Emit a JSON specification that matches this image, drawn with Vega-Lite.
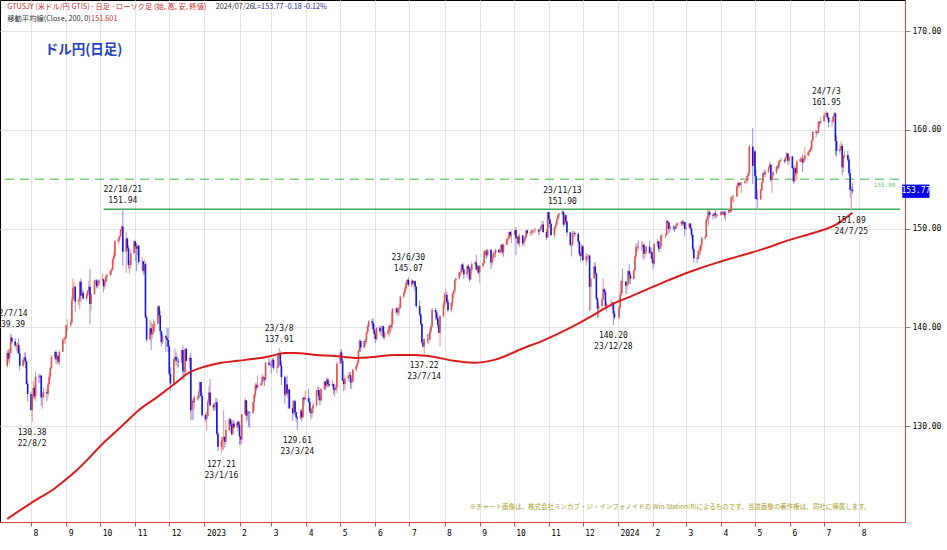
{
"$schema":"https://vega.github.io/schema/vega-lite/v6.json",
"width":905,"height":522,
"autosize":{"type":"none"},
"padding":{"left":0,"top":0,"right":42,"bottom":28},
"background":"white",
"view":{"stroke":"#000","strokeWidth":1},
"datasets":{
"ohlc":[
{"d":"2022-07-11","o":136.1,"h":137.7,"l":135.9,"c":137.4},{"d":"2022-07-12","o":137.4,"h":137.75,"l":136.55,"c":136.85},{"d":"2022-07-13","o":136.85,"h":137.85,"l":136.3,"c":137.4},{"d":"2022-07-14","o":137.4,"h":139.39,"l":137.35,"c":138.95},{"d":"2022-07-15","o":138.95,"h":139.2,"l":138.3,"c":138.55},
{"d":"2022-07-18","o":138.55,"h":138.9,"l":137.95,"c":138.15},{"d":"2022-07-19","o":138.15,"h":138.4,"l":137.6,"c":138.2},{"d":"2022-07-20","o":138.2,"h":138.45,"l":137.4,"c":138.2},{"d":"2022-07-21","o":138.2,"h":138.9,"l":137.3,"c":137.35},{"d":"2022-07-22","o":137.35,"h":137.9,"l":135.6,"c":136.1},
{"d":"2022-07-25","o":136.1,"h":136.85,"l":135.95,"c":136.7},{"d":"2022-07-26","o":136.7,"h":137.45,"l":136.3,"c":136.95},{"d":"2022-07-27","o":136.95,"h":137.45,"l":135.9,"c":136.55},{"d":"2022-07-28","o":136.55,"h":136.6,"l":134.2,"c":134.25},{"d":"2022-07-29","o":134.25,"h":134.6,"l":132.5,"c":133.25},
{"d":"2022-08-01","o":133.25,"h":133.5,"l":131.6,"c":131.6},{"d":"2022-08-02","o":131.6,"h":133.2,"l":130.38,"c":133.15},{"d":"2022-08-03","o":133.15,"h":134.55,"l":132.75,"c":133.85},{"d":"2022-08-04","o":133.85,"h":134.1,"l":132.75,"c":133.0},{"d":"2022-08-05","o":133.0,"h":135.5,"l":132.55,"c":135.0},
{"d":"2022-08-08","o":135.0,"h":135.3,"l":134.35,"c":134.95},{"d":"2022-08-09","o":134.95,"h":135.2,"l":134.35,"c":135.1},{"d":"2022-08-10","o":135.1,"h":135.2,"l":132.05,"c":132.9},{"d":"2022-08-11","o":132.9,"h":133.4,"l":131.75,"c":132.95},{"d":"2022-08-12","o":132.95,"h":133.9,"l":132.75,"c":133.45},
{"d":"2022-08-15","o":133.45,"h":133.75,"l":132.55,"c":133.3},{"d":"2022-08-16","o":133.3,"h":134.4,"l":132.9,"c":134.2},{"d":"2022-08-17","o":134.2,"h":135.4,"l":134.05,"c":135.0},{"d":"2022-08-18","o":135.0,"h":136.0,"l":134.7,"c":135.9},{"d":"2022-08-19","o":135.9,"h":137.15,"l":135.75,"c":137.0},
{"d":"2022-08-22","o":137.0,"h":137.6,"l":136.75,"c":137.5},{"d":"2022-08-23","o":137.5,"h":137.7,"l":136.3,"c":136.75},{"d":"2022-08-24","o":136.75,"h":137.2,"l":136.25,"c":137.1},{"d":"2022-08-25","o":137.1,"h":137.25,"l":136.3,"c":136.5},{"d":"2022-08-26","o":136.5,"h":137.7,"l":136.2,"c":137.5},
{"d":"2022-08-29","o":137.5,"h":138.9,"l":137.5,"c":138.75},{"d":"2022-08-30","o":138.75,"h":139.05,"l":138.3,"c":138.75},{"d":"2022-08-31","o":138.75,"h":139.1,"l":138.3,"c":138.95},{"d":"2022-09-01","o":138.95,"h":140.25,"l":138.95,"c":140.2},{"d":"2022-09-02","o":140.2,"h":140.8,"l":139.6,"c":140.2},
{"d":"2022-09-05","o":140.2,"h":140.8,"l":140.0,"c":140.5},{"d":"2022-09-06","o":140.5,"h":143.1,"l":140.35,"c":142.75},{"d":"2022-09-07","o":142.75,"h":144.99,"l":142.65,"c":144.0},{"d":"2022-09-08","o":144.0,"h":144.55,"l":143.0,"c":144.1},{"d":"2022-09-09","o":144.1,"h":144.15,"l":141.5,"c":142.6},
{"d":"2022-09-12","o":142.6,"h":143.0,"l":142.2,"c":142.8},{"d":"2022-09-13","o":142.8,"h":144.7,"l":141.8,"c":144.6},{"d":"2022-09-14","o":144.6,"h":144.95,"l":142.55,"c":143.2},{"d":"2022-09-15","o":143.2,"h":143.85,"l":143.1,"c":143.5},{"d":"2022-09-16","o":143.5,"h":143.7,"l":142.8,"c":142.9},
{"d":"2022-09-19","o":142.9,"h":143.5,"l":142.65,"c":143.2},{"d":"2022-09-20","o":143.2,"h":143.75,"l":143.05,"c":143.7},{"d":"2022-09-21","o":143.7,"h":144.7,"l":143.45,"c":144.1},{"d":"2022-09-22","o":144.1,"h":145.9,"l":140.35,"c":142.35},{"d":"2022-09-23","o":142.35,"h":143.5,"l":141.7,"c":143.35},
{"d":"2022-09-26","o":143.35,"h":144.8,"l":143.3,"c":144.7},{"d":"2022-09-27","o":144.7,"h":144.85,"l":144.3,"c":144.75},{"d":"2022-09-28","o":144.75,"h":144.9,"l":143.95,"c":144.15},{"d":"2022-09-29","o":144.15,"h":144.6,"l":143.9,"c":144.45},{"d":"2022-09-30","o":144.45,"h":144.9,"l":144.3,"c":144.75},
{"d":"2022-10-03","o":144.75,"h":145.4,"l":144.65,"c":144.85},{"d":"2022-10-04","o":144.85,"h":144.95,"l":143.55,"c":144.15},{"d":"2022-10-05","o":144.15,"h":144.7,"l":143.85,"c":144.6},{"d":"2022-10-06","o":144.6,"h":145.3,"l":144.45,"c":145.1},{"d":"2022-10-07","o":145.1,"h":145.45,"l":144.65,"c":145.3},
{"d":"2022-10-10","o":145.3,"h":145.8,"l":145.2,"c":145.7},{"d":"2022-10-11","o":145.7,"h":145.95,"l":145.35,"c":145.85},{"d":"2022-10-12","o":145.85,"h":146.95,"l":145.7,"c":146.9},{"d":"2022-10-13","o":146.9,"h":147.65,"l":146.35,"c":147.2},{"d":"2022-10-14","o":147.2,"h":148.85,"l":147.0,"c":148.7},
{"d":"2022-10-17","o":148.7,"h":149.1,"l":148.4,"c":148.9},{"d":"2022-10-18","o":148.9,"h":149.3,"l":148.65,"c":149.2},{"d":"2022-10-19","o":149.2,"h":149.95,"l":149.1,"c":149.9},{"d":"2022-10-20","o":149.9,"h":150.3,"l":149.7,"c":150.2},{"d":"2022-10-21","o":150.2,"h":151.94,"l":146.2,"c":147.65},
{"d":"2022-10-24","o":147.65,"h":149.7,"l":145.5,"c":149.0},{"d":"2022-10-25","o":149.0,"h":149.05,"l":147.75,"c":148.0},{"d":"2022-10-26","o":148.0,"h":148.3,"l":145.95,"c":146.3},{"d":"2022-10-27","o":146.3,"h":146.8,"l":145.4,"c":146.3},{"d":"2022-10-28","o":146.3,"h":147.9,"l":145.9,"c":147.5},
{"d":"2022-10-31","o":147.5,"h":148.8,"l":147.5,"c":148.7},{"d":"2022-11-01","o":148.7,"h":148.8,"l":146.7,"c":148.2},{"d":"2022-11-02","o":148.2,"h":148.55,"l":145.7,"c":147.95},{"d":"2022-11-03","o":147.95,"h":148.4,"l":147.3,"c":148.25},{"d":"2022-11-04","o":148.25,"h":148.35,"l":146.35,"c":146.6},
{"d":"2022-11-07","o":146.6,"h":147.15,"l":145.9,"c":146.65},{"d":"2022-11-08","o":146.65,"h":146.7,"l":145.3,"c":145.7},{"d":"2022-11-09","o":145.7,"h":146.85,"l":145.3,"c":146.4},{"d":"2022-11-10","o":146.4,"h":146.6,"l":140.9,"c":141.0},{"d":"2022-11-11","o":141.0,"h":141.2,"l":138.5,"c":138.75},
{"d":"2022-11-14","o":138.75,"h":140.75,"l":138.7,"c":139.9},{"d":"2022-11-15","o":139.9,"h":140.5,"l":137.7,"c":139.3},{"d":"2022-11-16","o":139.3,"h":140.35,"l":138.85,"c":139.5},{"d":"2022-11-17","o":139.5,"h":140.8,"l":139.3,"c":140.2},{"d":"2022-11-18","o":140.2,"h":140.65,"l":139.6,"c":140.35},
{"d":"2022-11-21","o":140.35,"h":142.25,"l":140.25,"c":142.1},{"d":"2022-11-22","o":142.1,"h":142.25,"l":140.95,"c":141.2},{"d":"2022-11-23","o":141.2,"h":141.7,"l":139.25,"c":139.6},{"d":"2022-11-24","o":139.6,"h":139.65,"l":138.05,"c":138.5},{"d":"2022-11-25","o":138.5,"h":139.35,"l":138.3,"c":139.1},
{"d":"2022-11-28","o":139.1,"h":139.2,"l":137.5,"c":138.9},{"d":"2022-11-29","o":138.9,"h":139.9,"l":138.0,"c":138.7},{"d":"2022-11-30","o":138.7,"h":139.9,"l":137.5,"c":138.05},{"d":"2022-12-01","o":138.05,"h":138.15,"l":135.1,"c":135.3},{"d":"2022-12-02","o":135.3,"h":135.95,"l":133.6,"c":134.3},
{"d":"2022-12-05","o":134.3,"h":136.9,"l":134.1,"c":136.75},{"d":"2022-12-06","o":136.75,"h":137.85,"l":136.5,"c":137.0},{"d":"2022-12-07","o":137.0,"h":137.45,"l":136.1,"c":136.6},{"d":"2022-12-08","o":136.6,"h":137.15,"l":135.9,"c":136.6},{"d":"2022-12-09","o":136.6,"h":136.9,"l":135.9,"c":136.5},
{"d":"2022-12-12","o":136.5,"h":137.75,"l":136.3,"c":137.7},{"d":"2022-12-13","o":137.7,"h":138.15,"l":134.7,"c":135.6},{"d":"2022-12-14","o":135.6,"h":135.95,"l":134.65,"c":135.5},{"d":"2022-12-15","o":135.5,"h":137.9,"l":135.05,"c":137.8},{"d":"2022-12-16","o":137.8,"h":137.95,"l":136.6,"c":136.6},
{"d":"2022-12-19","o":136.6,"h":137.05,"l":135.8,"c":136.9},{"d":"2022-12-20","o":136.9,"h":137.45,"l":130.6,"c":131.6},{"d":"2022-12-21","o":131.6,"h":132.8,"l":130.6,"c":132.5},{"d":"2022-12-22","o":132.5,"h":132.7,"l":130.6,"c":132.4},{"d":"2022-12-23","o":132.4,"h":133.1,"l":131.7,"c":132.9},
{"d":"2022-12-26","o":132.9,"h":133.0,"l":132.6,"c":132.85},{"d":"2022-12-27","o":132.85,"h":133.6,"l":132.6,"c":133.5},{"d":"2022-12-28","o":133.5,"h":134.5,"l":133.4,"c":134.45},{"d":"2022-12-29","o":134.45,"h":134.45,"l":132.9,"c":133.05},{"d":"2022-12-30","o":133.05,"h":133.3,"l":130.95,"c":131.1},
{"d":"2023-01-02","o":131.1,"h":131.3,"l":130.45,"c":130.7},{"d":"2023-01-03","o":130.7,"h":131.45,"l":129.5,"c":131.0},{"d":"2023-01-04","o":131.0,"h":132.7,"l":130.9,"c":132.45},{"d":"2023-01-05","o":132.45,"h":134.05,"l":132.4,"c":133.4},{"d":"2023-01-06","o":133.4,"h":134.75,"l":131.95,"c":132.1},
{"d":"2023-01-09","o":132.1,"h":132.3,"l":131.55,"c":131.9},{"d":"2023-01-10","o":131.9,"h":132.3,"l":131.6,"c":132.2},{"d":"2023-01-11","o":132.2,"h":132.85,"l":131.55,"c":132.4},{"d":"2023-01-12","o":132.4,"h":132.85,"l":129.05,"c":129.2},{"d":"2023-01-13","o":129.2,"h":129.4,"l":127.45,"c":127.9},
{"d":"2023-01-16","o":127.9,"h":128.9,"l":127.21,"c":128.5},{"d":"2023-01-17","o":128.5,"h":128.9,"l":127.6,"c":128.6},{"d":"2023-01-18","o":128.6,"h":131.55,"l":127.55,"c":128.9},{"d":"2023-01-19","o":128.9,"h":128.95,"l":127.8,"c":128.4},{"d":"2023-01-20","o":128.4,"h":130.6,"l":128.1,"c":129.6},
{"d":"2023-01-23","o":129.6,"h":130.85,"l":129.45,"c":130.7},{"d":"2023-01-24","o":130.7,"h":130.75,"l":130.0,"c":130.15},{"d":"2023-01-25","o":130.15,"h":130.5,"l":129.05,"c":129.2},{"d":"2023-01-26","o":129.2,"h":130.6,"l":129.05,"c":130.25},{"d":"2023-01-27","o":130.25,"h":130.6,"l":129.7,"c":129.85},
{"d":"2023-01-30","o":129.85,"h":130.5,"l":129.5,"c":130.4},{"d":"2023-01-31","o":130.4,"h":130.6,"l":129.8,"c":130.1},{"d":"2023-02-01","o":130.1,"h":130.45,"l":128.1,"c":128.95},{"d":"2023-02-02","o":128.95,"h":129.0,"l":128.1,"c":128.65},{"d":"2023-02-03","o":128.65,"h":131.2,"l":128.2,"c":131.2},
{"d":"2023-02-06","o":131.2,"h":132.9,"l":131.15,"c":132.6},{"d":"2023-02-07","o":132.6,"h":132.6,"l":130.45,"c":131.05},{"d":"2023-02-08","o":131.05,"h":131.6,"l":130.65,"c":131.45},{"d":"2023-02-09","o":131.45,"h":131.5,"l":129.95,"c":131.4},{"d":"2023-02-10","o":131.4,"h":131.45,"l":129.8,"c":131.35},
{"d":"2023-02-13","o":131.35,"h":132.55,"l":131.2,"c":132.4},{"d":"2023-02-14","o":132.4,"h":133.3,"l":131.55,"c":133.15},{"d":"2023-02-15","o":133.15,"h":134.35,"l":132.85,"c":134.1},{"d":"2023-02-16","o":134.1,"h":134.3,"l":133.6,"c":133.9},{"d":"2023-02-17","o":133.9,"h":135.1,"l":133.85,"c":134.15},
{"d":"2023-02-20","o":134.15,"h":134.4,"l":134.0,"c":134.3},{"d":"2023-02-21","o":134.3,"h":135.25,"l":134.05,"c":134.95},{"d":"2023-02-22","o":134.95,"h":135.1,"l":134.5,"c":134.9},{"d":"2023-02-23","o":134.9,"h":134.95,"l":134.05,"c":134.7},{"d":"2023-02-24","o":134.7,"h":136.5,"l":134.55,"c":136.4},
{"d":"2023-02-27","o":136.4,"h":136.9,"l":136.05,"c":136.2},{"d":"2023-02-28","o":136.2,"h":136.6,"l":135.95,"c":136.2},{"d":"2023-03-01","o":136.2,"h":136.6,"l":135.3,"c":136.15},{"d":"2023-03-02","o":136.15,"h":136.9,"l":135.9,"c":136.7},{"d":"2023-03-03","o":136.7,"h":136.85,"l":135.7,"c":135.9},
{"d":"2023-03-06","o":135.9,"h":136.15,"l":135.35,"c":135.9},{"d":"2023-03-07","o":135.9,"h":137.4,"l":135.8,"c":137.15},{"d":"2023-03-08","o":137.15,"h":137.91,"l":136.8,"c":137.3},{"d":"2023-03-09","o":137.3,"h":137.6,"l":136.05,"c":136.1},{"d":"2023-03-10","o":136.1,"h":136.6,"l":134.15,"c":134.95},
{"d":"2023-03-13","o":134.95,"h":135.1,"l":132.2,"c":133.2},{"d":"2023-03-14","o":133.2,"h":134.95,"l":133.05,"c":134.2},{"d":"2023-03-15","o":134.2,"h":135.1,"l":132.9,"c":133.3},{"d":"2023-03-16","o":133.3,"h":133.7,"l":131.7,"c":133.7},{"d":"2023-03-17","o":133.7,"h":133.8,"l":131.75,"c":131.8},
{"d":"2023-03-20","o":131.8,"h":132.6,"l":130.55,"c":131.3},{"d":"2023-03-21","o":131.3,"h":132.65,"l":131.1,"c":132.5},{"d":"2023-03-22","o":132.5,"h":132.65,"l":131.1,"c":131.4},{"d":"2023-03-23","o":131.4,"h":131.45,"l":130.4,"c":130.85},{"d":"2023-03-24","o":130.85,"h":131.0,"l":129.61,"c":130.75},
{"d":"2023-03-27","o":130.75,"h":131.7,"l":130.7,"c":131.55},{"d":"2023-03-28","o":131.55,"h":131.75,"l":130.5,"c":130.9},{"d":"2023-03-29","o":130.9,"h":132.9,"l":130.8,"c":132.85},{"d":"2023-03-30","o":132.85,"h":133.0,"l":132.1,"c":132.7},{"d":"2023-03-31","o":132.7,"h":133.6,"l":132.6,"c":132.85},
{"d":"2023-04-03","o":132.85,"h":133.75,"l":132.35,"c":132.45},{"d":"2023-04-04","o":132.45,"h":132.8,"l":131.3,"c":131.5},{"d":"2023-04-05","o":131.5,"h":131.8,"l":130.65,"c":131.3},{"d":"2023-04-06","o":131.3,"h":131.95,"l":130.85,"c":131.75},{"d":"2023-04-07","o":131.75,"h":132.4,"l":131.3,"c":132.1},
{"d":"2023-04-10","o":132.1,"h":133.65,"l":131.95,"c":133.6},{"d":"2023-04-11","o":133.6,"h":133.95,"l":133.2,"c":133.65},{"d":"2023-04-12","o":133.65,"h":134.0,"l":132.55,"c":133.0},{"d":"2023-04-13","o":133.0,"h":133.4,"l":132.1,"c":132.6},{"d":"2023-04-14","o":132.6,"h":133.85,"l":132.4,"c":133.75},
{"d":"2023-04-17","o":133.75,"h":134.55,"l":133.6,"c":134.5},{"d":"2023-04-18","o":134.5,"h":134.55,"l":133.65,"c":134.1},{"d":"2023-04-19","o":134.1,"h":134.95,"l":133.9,"c":134.7},{"d":"2023-04-20","o":134.7,"h":134.9,"l":133.9,"c":134.25},{"d":"2023-04-21","o":134.25,"h":134.6,"l":133.95,"c":134.1},
{"d":"2023-04-24","o":134.1,"h":134.65,"l":134.0,"c":134.25},{"d":"2023-04-25","o":134.25,"h":134.3,"l":133.25,"c":133.7},{"d":"2023-04-26","o":133.7,"h":133.85,"l":133.0,"c":133.65},{"d":"2023-04-27","o":133.65,"h":134.2,"l":133.5,"c":133.95},{"d":"2023-04-28","o":133.95,"h":136.55,"l":133.35,"c":136.3},
{"d":"2023-05-01","o":136.3,"h":137.75,"l":136.3,"c":137.45},{"d":"2023-05-02","o":137.45,"h":137.75,"l":136.3,"c":136.6},{"d":"2023-05-03","o":136.6,"h":136.85,"l":134.55,"c":134.6},{"d":"2023-05-04","o":134.6,"h":134.8,"l":133.5,"c":134.25},{"d":"2023-05-05","o":134.25,"h":135.15,"l":133.65,"c":134.8},
{"d":"2023-05-08","o":134.8,"h":135.35,"l":134.5,"c":135.1},{"d":"2023-05-09","o":135.1,"h":135.5,"l":134.9,"c":135.15},{"d":"2023-05-10","o":135.15,"h":135.45,"l":133.8,"c":134.4},{"d":"2023-05-11","o":134.4,"h":134.85,"l":133.75,"c":134.5},{"d":"2023-05-12","o":134.5,"h":135.8,"l":134.4,"c":135.7},
{"d":"2023-05-15","o":135.7,"h":136.2,"l":135.5,"c":136.1},{"d":"2023-05-16","o":136.1,"h":136.7,"l":135.95,"c":136.4},{"d":"2023-05-17","o":136.4,"h":137.7,"l":136.3,"c":137.6},{"d":"2023-05-18","o":137.6,"h":138.75,"l":137.5,"c":138.6},{"d":"2023-05-19","o":138.6,"h":138.75,"l":137.5,"c":137.95},
{"d":"2023-05-22","o":137.95,"h":138.65,"l":137.85,"c":138.6},{"d":"2023-05-23","o":138.6,"h":138.9,"l":138.05,"c":138.55},{"d":"2023-05-24","o":138.55,"h":139.55,"l":138.3,"c":139.45},{"d":"2023-05-25","o":139.45,"h":140.25,"l":139.3,"c":140.05},{"d":"2023-05-26","o":140.05,"h":140.75,"l":139.6,"c":140.6},
{"d":"2023-05-29","o":140.6,"h":140.9,"l":140.2,"c":140.45},{"d":"2023-05-30","o":140.45,"h":140.9,"l":139.55,"c":139.8},{"d":"2023-05-31","o":139.8,"h":140.3,"l":138.85,"c":139.3},{"d":"2023-06-01","o":139.3,"h":139.55,"l":138.4,"c":138.8},{"d":"2023-06-02","o":138.8,"h":140.0,"l":138.65,"c":139.95},
{"d":"2023-06-05","o":139.95,"h":140.2,"l":139.35,"c":139.6},{"d":"2023-06-06","o":139.6,"h":139.8,"l":139.1,"c":139.6},{"d":"2023-06-07","o":139.6,"h":140.2,"l":139.1,"c":140.1},{"d":"2023-06-08","o":140.1,"h":140.15,"l":138.8,"c":139.0},{"d":"2023-06-09","o":139.0,"h":139.55,"l":138.75,"c":139.4},
{"d":"2023-06-12","o":139.4,"h":139.8,"l":139.2,"c":139.6},{"d":"2023-06-13","o":139.6,"h":140.3,"l":139.05,"c":140.1},{"d":"2023-06-14","o":140.1,"h":140.2,"l":139.3,"c":140.0},{"d":"2023-06-15","o":140.0,"h":141.5,"l":139.65,"c":140.3},{"d":"2023-06-16","o":140.3,"h":141.95,"l":139.85,"c":141.85},
{"d":"2023-06-19","o":141.85,"h":142.0,"l":141.4,"c":141.9},{"d":"2023-06-20","o":141.9,"h":142.0,"l":141.2,"c":141.5},{"d":"2023-06-21","o":141.5,"h":142.0,"l":141.1,"c":141.85},{"d":"2023-06-22","o":141.85,"h":142.35,"l":141.3,"c":141.95},{"d":"2023-06-23","o":141.95,"h":143.2,"l":141.9,"c":143.1},
{"d":"2023-06-26","o":143.1,"h":143.65,"l":142.95,"c":143.5},{"d":"2023-06-27","o":143.5,"h":144.1,"l":143.35,"c":143.9},{"d":"2023-06-28","o":143.9,"h":144.6,"l":143.8,"c":144.5},{"d":"2023-06-29","o":144.5,"h":144.85,"l":144.3,"c":144.8},{"d":"2023-06-30","o":144.8,"h":145.07,"l":144.1,"c":144.3},
{"d":"2023-07-03","o":144.3,"h":144.9,"l":144.05,"c":144.7},{"d":"2023-07-04","o":144.7,"h":144.75,"l":144.3,"c":144.45},{"d":"2023-07-05","o":144.45,"h":144.7,"l":143.8,"c":144.65},{"d":"2023-07-06","o":144.65,"h":144.75,"l":143.55,"c":144.1},{"d":"2023-07-07","o":144.1,"h":144.15,"l":141.95,"c":142.15},
{"d":"2023-07-10","o":142.15,"h":142.7,"l":141.1,"c":141.3},{"d":"2023-07-11","o":141.3,"h":141.4,"l":140.15,"c":140.35},{"d":"2023-07-12","o":140.35,"h":140.4,"l":138.35,"c":138.45},{"d":"2023-07-13","o":138.45,"h":138.8,"l":137.95,"c":138.05},{"d":"2023-07-14","o":138.05,"h":138.9,"l":137.22,"c":138.8},
{"d":"2023-07-17","o":138.8,"h":139.3,"l":138.4,"c":138.75},{"d":"2023-07-18","o":138.75,"h":139.3,"l":138.3,"c":138.8},{"d":"2023-07-19","o":138.8,"h":139.95,"l":138.55,"c":139.6},{"d":"2023-07-20","o":139.6,"h":140.25,"l":139.35,"c":140.1},{"d":"2023-07-21","o":140.1,"h":141.95,"l":139.95,"c":141.75},
{"d":"2023-07-24","o":141.75,"h":141.95,"l":140.75,"c":141.5},{"d":"2023-07-25","o":141.5,"h":141.7,"l":140.7,"c":140.95},{"d":"2023-07-26","o":140.95,"h":141.2,"l":139.95,"c":140.25},{"d":"2023-07-27","o":140.25,"h":140.75,"l":139.4,"c":139.45},{"d":"2023-07-28","o":139.45,"h":141.2,"l":138.05,"c":141.15},
{"d":"2023-07-31","o":141.15,"h":142.65,"l":140.95,"c":142.3},{"d":"2023-08-01","o":142.3,"h":143.5,"l":141.95,"c":143.3},{"d":"2023-08-02","o":143.3,"h":143.9,"l":142.9,"c":143.3},{"d":"2023-08-03","o":143.3,"h":143.6,"l":142.3,"c":142.55},{"d":"2023-08-04","o":142.55,"h":142.9,"l":141.55,"c":141.75},
{"d":"2023-08-07","o":141.75,"h":142.55,"l":141.5,"c":142.45},{"d":"2023-08-08","o":142.45,"h":143.5,"l":142.1,"c":143.4},{"d":"2023-08-09","o":143.4,"h":143.8,"l":143.0,"c":143.7},{"d":"2023-08-10","o":143.7,"h":144.85,"l":143.35,"c":144.75},{"d":"2023-08-11","o":144.75,"h":145.05,"l":144.5,"c":144.95},
{"d":"2023-08-14","o":144.95,"h":145.6,"l":144.8,"c":145.55},{"d":"2023-08-15","o":145.55,"h":145.85,"l":145.2,"c":145.6},{"d":"2023-08-16","o":145.6,"h":146.4,"l":145.4,"c":146.35},{"d":"2023-08-17","o":146.35,"h":146.55,"l":145.65,"c":145.85},{"d":"2023-08-18","o":145.85,"h":146.0,"l":144.9,"c":145.35},
{"d":"2023-08-21","o":145.35,"h":146.3,"l":145.05,"c":146.2},{"d":"2023-08-22","o":146.2,"h":146.4,"l":145.6,"c":145.9},{"d":"2023-08-23","o":145.9,"h":146.1,"l":144.55,"c":144.85},{"d":"2023-08-24","o":144.85,"h":146.15,"l":144.75,"c":145.8},{"d":"2023-08-25","o":145.8,"h":146.65,"l":145.4,"c":146.4},
{"d":"2023-08-28","o":146.4,"h":146.75,"l":146.3,"c":146.55},{"d":"2023-08-29","o":146.55,"h":147.35,"l":145.75,"c":145.85},{"d":"2023-08-30","o":145.85,"h":146.3,"l":145.5,"c":146.15},{"d":"2023-08-31","o":146.15,"h":146.25,"l":145.35,"c":145.55},{"d":"2023-09-01","o":145.55,"h":146.3,"l":144.45,"c":146.2},
{"d":"2023-09-04","o":146.2,"h":146.55,"l":146.05,"c":146.5},{"d":"2023-09-05","o":146.5,"h":147.8,"l":146.4,"c":147.7},{"d":"2023-09-06","o":147.7,"h":147.85,"l":147.15,"c":147.7},{"d":"2023-09-07","o":147.7,"h":147.9,"l":146.9,"c":147.3},{"d":"2023-09-08","o":147.3,"h":147.9,"l":147.15,"c":147.85},
{"d":"2023-09-11","o":147.85,"h":147.85,"l":145.9,"c":146.55},{"d":"2023-09-12","o":146.55,"h":147.2,"l":146.25,"c":147.1},{"d":"2023-09-13","o":147.1,"h":147.75,"l":146.75,"c":147.45},{"d":"2023-09-14","o":147.45,"h":147.6,"l":147.0,"c":147.45},{"d":"2023-09-15","o":147.45,"h":147.95,"l":147.1,"c":147.85},
{"d":"2023-09-18","o":147.85,"h":147.9,"l":147.5,"c":147.6},{"d":"2023-09-19","o":147.6,"h":148.0,"l":147.5,"c":147.85},{"d":"2023-09-20","o":147.85,"h":148.45,"l":147.45,"c":148.35},{"d":"2023-09-21","o":148.35,"h":148.5,"l":147.3,"c":147.6},{"d":"2023-09-22","o":147.6,"h":148.45,"l":147.1,"c":148.35},
{"d":"2023-09-25","o":148.35,"h":149.0,"l":148.3,"c":148.9},{"d":"2023-09-26","o":148.9,"h":149.2,"l":148.65,"c":149.05},{"d":"2023-09-27","o":149.05,"h":149.7,"l":148.9,"c":149.65},{"d":"2023-09-28","o":149.65,"h":149.7,"l":149.1,"c":149.3},{"d":"2023-09-29","o":149.3,"h":149.8,"l":148.5,"c":149.35},
{"d":"2023-10-02","o":149.35,"h":149.9,"l":149.3,"c":149.85},{"d":"2023-10-03","o":149.85,"h":150.16,"l":147.3,"c":149.0},{"d":"2023-10-04","o":149.0,"h":149.3,"l":148.5,"c":149.15},{"d":"2023-10-05","o":149.15,"h":149.25,"l":148.3,"c":148.5},{"d":"2023-10-06","o":148.5,"h":149.55,"l":148.1,"c":149.3},
{"d":"2023-10-09","o":149.3,"h":149.3,"l":148.2,"c":148.5},{"d":"2023-10-10","o":148.5,"h":148.85,"l":148.2,"c":148.75},{"d":"2023-10-11","o":148.75,"h":149.25,"l":148.7,"c":149.1},{"d":"2023-10-12","o":149.1,"h":149.85,"l":149.0,"c":149.8},{"d":"2023-10-13","o":149.8,"h":149.85,"l":149.35,"c":149.55},
{"d":"2023-10-16","o":149.55,"h":149.8,"l":149.3,"c":149.6},{"d":"2023-10-17","o":149.6,"h":149.85,"l":149.3,"c":149.8},{"d":"2023-10-18","o":149.8,"h":149.9,"l":149.4,"c":149.8},{"d":"2023-10-19","o":149.8,"h":150.0,"l":149.55,"c":149.85},{"d":"2023-10-20","o":149.85,"h":150.05,"l":149.6,"c":149.85},
{"d":"2023-10-23","o":149.85,"h":150.0,"l":149.3,"c":149.7},{"d":"2023-10-24","o":149.7,"h":150.0,"l":149.4,"c":149.9},{"d":"2023-10-25","o":149.9,"h":150.3,"l":149.75,"c":150.2},{"d":"2023-10-26","o":150.2,"h":150.75,"l":150.1,"c":150.4},{"d":"2023-10-27","o":150.4,"h":150.75,"l":149.55,"c":149.65},
{"d":"2023-10-30","o":149.65,"h":149.95,"l":148.8,"c":149.1},{"d":"2023-10-31","o":149.1,"h":151.7,"l":149.05,"c":151.65},{"d":"2023-11-01","o":151.65,"h":151.7,"l":150.1,"c":150.95},{"d":"2023-11-02","o":150.95,"h":151.0,"l":150.05,"c":150.45},{"d":"2023-11-03","o":150.45,"h":150.65,"l":149.2,"c":149.35},
{"d":"2023-11-06","o":149.35,"h":150.2,"l":149.05,"c":150.05},{"d":"2023-11-07","o":150.05,"h":150.6,"l":149.95,"c":150.4},{"d":"2023-11-08","o":150.4,"h":151.0,"l":150.3,"c":150.95},{"d":"2023-11-09","o":150.95,"h":151.45,"l":150.8,"c":151.35},{"d":"2023-11-10","o":151.35,"h":151.6,"l":151.05,"c":151.5},
{"d":"2023-11-13","o":151.5,"h":151.9,"l":151.35,"c":151.7},{"d":"2023-11-14","o":151.7,"h":151.75,"l":150.15,"c":150.4},{"d":"2023-11-15","o":150.4,"h":151.45,"l":150.35,"c":151.35},{"d":"2023-11-16","o":151.35,"h":151.4,"l":150.55,"c":150.7},{"d":"2023-11-17","o":150.7,"h":150.8,"l":149.2,"c":149.6},
{"d":"2023-11-20","o":149.6,"h":149.7,"l":148.15,"c":148.35},{"d":"2023-11-21","o":148.35,"h":148.5,"l":147.15,"c":148.4},{"d":"2023-11-22","o":148.4,"h":149.75,"l":148.2,"c":149.55},{"d":"2023-11-23","o":149.55,"h":149.75,"l":149.05,"c":149.55},{"d":"2023-11-24","o":149.55,"h":149.7,"l":149.2,"c":149.45},
{"d":"2023-11-27","o":149.45,"h":149.6,"l":148.4,"c":148.65},{"d":"2023-11-28","o":148.65,"h":148.75,"l":147.2,"c":147.45},{"d":"2023-11-29","o":147.45,"h":147.65,"l":146.65,"c":147.25},{"d":"2023-11-30","o":147.25,"h":148.45,"l":147.15,"c":148.2},{"d":"2023-12-01","o":148.2,"h":148.3,"l":146.65,"c":146.8},
{"d":"2023-12-04","o":146.8,"h":147.45,"l":146.25,"c":147.2},{"d":"2023-12-05","o":147.2,"h":147.45,"l":146.6,"c":147.2},{"d":"2023-12-06","o":147.2,"h":147.3,"l":146.9,"c":147.25},{"d":"2023-12-07","o":147.25,"h":147.35,"l":141.6,"c":144.1},{"d":"2023-12-08","o":144.1,"h":145.0,"l":141.75,"c":144.95},
{"d":"2023-12-11","o":144.95,"h":146.55,"l":144.9,"c":146.15},{"d":"2023-12-12","o":146.15,"h":146.6,"l":145.25,"c":145.45},{"d":"2023-12-13","o":145.45,"h":145.55,"l":142.75,"c":142.9},{"d":"2023-12-14","o":142.9,"h":143.0,"l":140.95,"c":141.9},{"d":"2023-12-15","o":141.9,"h":142.5,"l":141.0,"c":142.15},
{"d":"2023-12-18","o":142.15,"h":142.95,"l":141.95,"c":142.8},{"d":"2023-12-19","o":142.8,"h":144.95,"l":142.7,"c":143.85},{"d":"2023-12-20","o":143.85,"h":144.0,"l":143.25,"c":143.55},{"d":"2023-12-21","o":143.55,"h":143.75,"l":141.95,"c":142.15},{"d":"2023-12-22","o":142.15,"h":142.6,"l":141.55,"c":142.4},
{"d":"2023-12-26","o":142.4,"h":142.85,"l":142.15,"c":142.4},{"d":"2023-12-27","o":142.4,"h":142.55,"l":141.9,"c":142.5},{"d":"2023-12-28","o":142.5,"h":142.55,"l":140.2,"c":141.4},{"d":"2023-12-29","o":141.4,"h":141.65,"l":140.8,"c":141.0},
{"d":"2024-01-02","o":141.0,"h":142.2,"l":140.8,"c":142.0},{"d":"2024-01-03","o":142.0,"h":143.7,"l":141.8,"c":143.3},{"d":"2024-01-04","o":143.3,"h":144.85,"l":143.15,"c":144.65},{"d":"2024-01-05","o":144.65,"h":145.95,"l":143.45,"c":144.6},
{"d":"2024-01-08","o":144.6,"h":144.7,"l":143.4,"c":144.2},{"d":"2024-01-09","o":144.2,"h":144.55,"l":143.4,"c":144.4},{"d":"2024-01-10","o":144.4,"h":145.85,"l":144.25,"c":145.7},{"d":"2024-01-11","o":145.7,"h":146.4,"l":144.35,"c":145.3},{"d":"2024-01-12","o":145.3,"h":145.55,"l":144.35,"c":144.9},
{"d":"2024-01-15","o":144.9,"h":145.85,"l":144.85,"c":145.75},{"d":"2024-01-16","o":145.75,"h":147.3,"l":145.7,"c":147.2},{"d":"2024-01-17","o":147.2,"h":148.5,"l":147.0,"c":148.15},{"d":"2024-01-18","o":148.15,"h":148.5,"l":147.6,"c":148.15},{"d":"2024-01-19","o":148.15,"h":148.8,"l":147.85,"c":148.1},
{"d":"2024-01-22","o":148.1,"h":148.7,"l":147.75,"c":148.1},{"d":"2024-01-23","o":148.1,"h":148.7,"l":146.95,"c":148.35},{"d":"2024-01-24","o":148.35,"h":148.45,"l":146.85,"c":147.45},{"d":"2024-01-25","o":147.45,"h":147.85,"l":147.1,"c":147.65},{"d":"2024-01-26","o":147.65,"h":148.25,"l":147.45,"c":148.15},
{"d":"2024-01-29","o":148.15,"h":148.8,"l":147.5,"c":147.5},{"d":"2024-01-30","o":147.5,"h":147.8,"l":147.0,"c":147.6},{"d":"2024-01-31","o":147.6,"h":148.0,"l":146.5,"c":146.9},{"d":"2024-02-01","o":146.9,"h":147.2,"l":145.9,"c":146.45},{"d":"2024-02-02","o":146.45,"h":148.55,"l":146.2,"c":148.4},
{"d":"2024-02-05","o":148.4,"h":148.9,"l":148.1,"c":148.7},{"d":"2024-02-06","o":148.7,"h":148.75,"l":147.65,"c":147.95},{"d":"2024-02-07","o":147.95,"h":148.3,"l":147.6,"c":148.15},{"d":"2024-02-08","o":148.15,"h":149.35,"l":147.95,"c":149.3},{"d":"2024-02-09","o":149.3,"h":149.5,"l":149.0,"c":149.3},
{"d":"2024-02-12","o":149.3,"h":149.5,"l":149.0,"c":149.35},{"d":"2024-02-13","o":149.35,"h":150.9,"l":149.2,"c":150.75},{"d":"2024-02-14","o":150.75,"h":150.85,"l":150.05,"c":150.6},{"d":"2024-02-15","o":150.6,"h":150.65,"l":149.5,"c":149.95},{"d":"2024-02-16","o":149.95,"h":150.4,"l":149.65,"c":150.2},
{"d":"2024-02-19","o":150.2,"h":150.3,"l":149.8,"c":150.15},{"d":"2024-02-20","o":150.15,"h":150.2,"l":149.65,"c":150.0},{"d":"2024-02-21","o":150.0,"h":150.35,"l":149.85,"c":150.3},{"d":"2024-02-22","o":150.3,"h":150.6,"l":150.05,"c":150.5},{"d":"2024-02-23","o":150.5,"h":150.65,"l":150.25,"c":150.5},
{"d":"2024-02-26","o":150.5,"h":150.75,"l":150.25,"c":150.7},{"d":"2024-02-27","o":150.7,"h":150.85,"l":150.3,"c":150.5},{"d":"2024-02-28","o":150.5,"h":150.85,"l":150.2,"c":150.65},{"d":"2024-02-29","o":150.65,"h":150.7,"l":149.2,"c":149.95},{"d":"2024-03-01","o":149.95,"h":150.7,"l":149.75,"c":150.1},
{"d":"2024-03-04","o":150.1,"h":150.6,"l":150.1,"c":150.5},{"d":"2024-03-05","o":150.5,"h":150.55,"l":149.8,"c":150.0},{"d":"2024-03-06","o":150.0,"h":150.15,"l":149.1,"c":149.35},{"d":"2024-03-07","o":149.35,"h":149.45,"l":147.65,"c":147.9},{"d":"2024-03-08","o":147.9,"h":148.1,"l":146.55,"c":147.0},
{"d":"2024-03-11","o":147.0,"h":147.3,"l":146.48,"c":146.95},{"d":"2024-03-12","o":146.95,"h":147.9,"l":146.9,"c":147.7},{"d":"2024-03-13","o":147.7,"h":148.15,"l":147.3,"c":147.75},{"d":"2024-03-14","o":147.75,"h":148.35,"l":147.4,"c":148.35},{"d":"2024-03-15","o":148.35,"h":149.15,"l":147.95,"c":149.05},
{"d":"2024-03-18","o":149.05,"h":149.25,"l":148.8,"c":149.15},{"d":"2024-03-19","o":149.15,"h":150.95,"l":149.1,"c":150.85},{"d":"2024-03-20","o":150.85,"h":151.8,"l":150.7,"c":151.25},{"d":"2024-03-21","o":151.25,"h":151.85,"l":150.25,"c":151.65},{"d":"2024-03-22","o":151.65,"h":151.85,"l":151.1,"c":151.4},
{"d":"2024-03-25","o":151.4,"h":151.5,"l":150.9,"c":151.3},{"d":"2024-03-26","o":151.3,"h":151.6,"l":151.15,"c":151.55},{"d":"2024-03-27","o":151.55,"h":151.97,"l":151.0,"c":151.35},{"d":"2024-03-28","o":151.35,"h":151.5,"l":151.05,"c":151.35},{"d":"2024-03-29","o":151.35,"h":151.45,"l":151.2,"c":151.35},
{"d":"2024-04-01","o":151.35,"h":151.8,"l":151.3,"c":151.65},{"d":"2024-04-02","o":151.65,"h":151.8,"l":151.35,"c":151.55},{"d":"2024-04-03","o":151.55,"h":151.8,"l":151.4,"c":151.65},{"d":"2024-04-04","o":151.65,"h":151.75,"l":151.05,"c":151.35},{"d":"2024-04-05","o":151.35,"h":151.8,"l":150.8,"c":151.6},
{"d":"2024-04-08","o":151.6,"h":151.9,"l":151.5,"c":151.85},{"d":"2024-04-09","o":151.85,"h":151.95,"l":151.6,"c":151.75},{"d":"2024-04-10","o":151.75,"h":153.25,"l":151.6,"c":153.15},{"d":"2024-04-11","o":153.15,"h":153.3,"l":152.75,"c":153.25},{"d":"2024-04-12","o":153.25,"h":153.4,"l":152.6,"c":153.25},
{"d":"2024-04-15","o":153.25,"h":154.4,"l":153.2,"c":154.25},{"d":"2024-04-16","o":154.25,"h":154.75,"l":154.1,"c":154.6},{"d":"2024-04-17","o":154.6,"h":154.7,"l":154.1,"c":154.4},{"d":"2024-04-18","o":154.4,"h":154.7,"l":154.3,"c":154.6},{"d":"2024-04-19","o":154.6,"h":154.7,"l":153.6,"c":154.65},
{"d":"2024-04-22","o":154.65,"h":154.85,"l":154.55,"c":154.8},{"d":"2024-04-23","o":154.8,"h":154.9,"l":154.5,"c":154.8},{"d":"2024-04-24","o":154.8,"h":155.4,"l":154.6,"c":155.35},{"d":"2024-04-25","o":155.35,"h":155.75,"l":155.0,"c":155.6},{"d":"2024-04-26","o":155.6,"h":158.45,"l":155.35,"c":158.3},
{"d":"2024-04-29","o":158.3,"h":160.2,"l":154.5,"c":156.35},{"d":"2024-04-30","o":156.35,"h":157.9,"l":156.3,"c":157.8},{"d":"2024-05-01","o":157.8,"h":157.95,"l":153.0,"c":155.3},{"d":"2024-05-02","o":155.3,"h":155.95,"l":152.95,"c":153.0},{"d":"2024-05-03","o":153.0,"h":153.9,"l":151.86,"c":152.95},
{"d":"2024-05-06","o":152.95,"h":154.0,"l":152.9,"c":153.9},{"d":"2024-05-07","o":153.9,"h":154.75,"l":153.8,"c":154.65},{"d":"2024-05-08","o":154.65,"h":155.65,"l":154.6,"c":155.6},{"d":"2024-05-09","o":155.6,"h":155.95,"l":155.2,"c":155.5},{"d":"2024-05-10","o":155.5,"h":155.95,"l":155.25,"c":155.75},
{"d":"2024-05-13","o":155.75,"h":156.25,"l":155.6,"c":156.2},{"d":"2024-05-14","o":156.2,"h":156.75,"l":156.05,"c":156.45},{"d":"2024-05-15","o":156.45,"h":156.6,"l":154.7,"c":154.9},{"d":"2024-05-16","o":154.9,"h":155.45,"l":153.6,"c":155.4},{"d":"2024-05-17","o":155.4,"h":155.85,"l":155.1,"c":155.7},
{"d":"2024-05-20","o":155.7,"h":156.3,"l":155.5,"c":156.25},{"d":"2024-05-21","o":156.25,"h":156.5,"l":155.95,"c":156.2},{"d":"2024-05-22","o":156.2,"h":156.85,"l":156.0,"c":156.8},{"d":"2024-05-23","o":156.8,"h":157.0,"l":156.5,"c":156.95},{"d":"2024-05-24","o":156.95,"h":157.2,"l":156.75,"c":156.95},
{"d":"2024-05-27","o":156.95,"h":157.05,"l":156.6,"c":156.85},{"d":"2024-05-28","o":156.85,"h":157.25,"l":156.7,"c":157.2},{"d":"2024-05-29","o":157.2,"h":157.7,"l":157.15,"c":157.6},{"d":"2024-05-30","o":157.6,"h":157.65,"l":156.4,"c":156.85},{"d":"2024-05-31","o":156.85,"h":157.3,"l":156.55,"c":157.3},
{"d":"2024-06-03","o":157.3,"h":157.35,"l":156.05,"c":156.1},{"d":"2024-06-04","o":156.1,"h":156.2,"l":154.55,"c":154.8},{"d":"2024-06-05","o":154.8,"h":156.45,"l":154.6,"c":156.1},{"d":"2024-06-06","o":156.1,"h":156.25,"l":155.4,"c":155.6},{"d":"2024-06-07","o":155.6,"h":157.0,"l":154.85,"c":156.75},
{"d":"2024-06-10","o":156.75,"h":157.25,"l":156.7,"c":157.05},{"d":"2024-06-11","o":157.05,"h":157.25,"l":156.75,"c":157.05},{"d":"2024-06-12","o":157.05,"h":157.55,"l":155.7,"c":156.7},{"d":"2024-06-13","o":156.7,"h":157.3,"l":156.6,"c":157.05},{"d":"2024-06-14","o":157.05,"h":158.25,"l":156.85,"c":157.4},
{"d":"2024-06-17","o":157.4,"h":157.9,"l":157.3,"c":157.7},{"d":"2024-06-18","o":157.7,"h":157.95,"l":157.45,"c":157.85},{"d":"2024-06-19","o":157.85,"h":158.25,"l":157.75,"c":158.1},{"d":"2024-06-20","o":158.1,"h":158.95,"l":157.85,"c":158.95},{"d":"2024-06-21","o":158.95,"h":159.9,"l":158.75,"c":159.8},
{"d":"2024-06-24","o":159.8,"h":159.95,"l":159.25,"c":159.7},{"d":"2024-06-25","o":159.7,"h":159.85,"l":159.5,"c":159.7},{"d":"2024-06-26","o":159.7,"h":160.85,"l":159.65,"c":160.8},{"d":"2024-06-27","o":160.8,"h":160.9,"l":160.3,"c":160.75},{"d":"2024-06-28","o":160.75,"h":161.3,"l":160.55,"c":160.85},
{"d":"2024-07-01","o":160.85,"h":161.75,"l":160.8,"c":161.45},{"d":"2024-07-02","o":161.45,"h":161.75,"l":161.25,"c":161.45},{"d":"2024-07-03","o":161.45,"h":161.95,"l":161.3,"c":161.7},{"d":"2024-07-04","o":161.7,"h":161.75,"l":161.05,"c":161.25},{"d":"2024-07-05","o":161.25,"h":161.3,"l":160.25,"c":160.75},
{"d":"2024-07-08","o":160.75,"h":161.05,"l":160.3,"c":160.8},{"d":"2024-07-09","o":160.8,"h":161.4,"l":160.65,"c":161.35},{"d":"2024-07-10","o":161.35,"h":161.8,"l":161.3,"c":161.65},{"d":"2024-07-11","o":161.65,"h":161.75,"l":157.4,"c":158.85},{"d":"2024-07-12","o":158.85,"h":159.45,"l":157.3,"c":157.85},
{"d":"2024-07-15","o":157.85,"h":158.55,"l":157.5,"c":158.05},{"d":"2024-07-16","o":158.05,"h":158.85,"l":157.95,"c":158.35},{"d":"2024-07-17","o":158.35,"h":158.6,"l":155.37,"c":156.2},{"d":"2024-07-18","o":156.2,"h":157.45,"l":155.7,"c":157.4},{"d":"2024-07-19","o":157.4,"h":157.85,"l":157.15,"c":157.45},
{"d":"2024-07-22","o":157.45,"h":157.9,"l":156.75,"c":157.0},{"d":"2024-07-23","o":157.0,"h":157.15,"l":155.3,"c":155.6},{"d":"2024-07-24","o":155.6,"h":155.95,"l":153.15,"c":153.9},{"d":"2024-07-25","o":153.9,"h":154.25,"l":151.89,"c":153.95},{"d":"2024-07-26","o":153.95,"h":154.65,"l":153.5,"c":153.77}
],
"ma":[
{"d":"2022-07-11","v":120.6},{"d":"2022-08-01","v":122.2},{"d":"2022-08-22","v":123.7},{"d":"2022-09-01","v":124.6},{"d":"2022-09-11","v":125.6},{"d":"2022-10-05","v":128.4},{"d":"2022-10-23","v":130.3},{"d":"2022-11-03","v":131.5},{"d":"2022-11-20","v":132.9},{"d":"2022-12-06","v":134.3},{"d":"2022-12-17","v":135.3},{"d":"2023-01-01","v":136.0},{"d":"2023-01-16","v":136.4},{"d":"2023-01-30","v":136.6},{"d":"2023-02-14","v":136.8},{"d":"2023-03-01","v":137.1},{"d":"2023-03-13","v":137.4},{"d":"2023-03-22","v":137.4},{"d":"2023-04-09","v":137.2},{"d":"2023-04-26","v":137.1},{"d":"2023-05-14","v":136.9},{"d":"2023-05-31","v":137.0},{"d":"2023-06-18","v":137.2},{"d":"2023-07-05","v":137.2},{"d":"2023-07-23","v":137.0},{"d":"2023-08-09","v":136.6},{"d":"2023-08-27","v":136.4},{"d":"2023-09-14","v":136.7},{"d":"2023-10-10","v":137.9},{"d":"2023-10-28","v":138.7},{"d":"2023-11-14","v":139.6},{"d":"2023-12-10","v":141.2},{"d":"2023-12-28","v":142.4},{"d":"2024-01-12","v":143.1},{"d":"2024-02-07","v":144.4},{"d":"2024-03-04","v":145.6},{"d":"2024-03-30","v":146.6},{"d":"2024-04-17","v":147.2},{"d":"2024-05-13","v":148.1},{"d":"2024-05-30","v":148.8},{"d":"2024-06-17","v":149.4},{"d":"2024-07-13","v":150.5},{"d":"2024-07-26","v":151.6}
],
"annHi":[
{"d":"2022-07-14","p":139.39,"t":"22/7/14\n139.39"},{"d":"2022-10-21","p":151.94,"t":"22/10/21\n151.94"},{"d":"2023-03-08","p":137.91,"t":"23/3/8\n137.91"},{"d":"2023-06-30","p":145.07,"t":"23/6/30\n145.07"},{"d":"2023-11-13","p":151.9,"t":"23/11/13\n151.90"},{"d":"2024-07-03","p":161.95,"t":"24/7/3\n161.95"}
],
"annLo":[
{"d":"2022-08-02","p":130.38,"t":"130.38\n22/8/2"},{"d":"2023-01-16","p":127.21,"t":"127.21\n23/1/16"},{"d":"2023-03-24","p":129.61,"t":"129.61\n23/3/24"},{"d":"2023-07-14","p":137.22,"t":"137.22\n23/7/14"},{"d":"2023-12-28","p":140.2,"t":"140.20\n23/12/28"},{"d":"2024-07-25","p":151.89,"t":"151.89\n24/7/25"}
],
"lines":[
{"d":"2022-07-09","d2":"2024-09-06","p":155.0,"k":"dash"},{"d":"2022-10-04","d2":"2024-09-06","p":151.94,"k":"solid"}
]
},
"encoding":{
"x":{"field":"d","type":"temporal",
"scale":{"type":"utc","domain":[{"year":2022,"month":7,"date":9,"utc":true},{"year":2024,"month":9,"date":6,"utc":true}],"nice":false},
"axis":{"title":null,"orient":"bottom",
"values":[{"year":2022,"month":8,"date":1,"utc":true},{"year":2022,"month":9,"date":1,"utc":true},{"year":2022,"month":10,"date":1,"utc":true},{"year":2022,"month":11,"date":1,"utc":true},{"year":2022,"month":12,"date":1,"utc":true},{"year":2023,"month":1,"date":1,"utc":true},{"year":2023,"month":2,"date":1,"utc":true},{"year":2023,"month":3,"date":1,"utc":true},{"year":2023,"month":4,"date":1,"utc":true},{"year":2023,"month":5,"date":1,"utc":true},{"year":2023,"month":6,"date":1,"utc":true},{"year":2023,"month":7,"date":1,"utc":true},{"year":2023,"month":8,"date":1,"utc":true},{"year":2023,"month":9,"date":1,"utc":true},{"year":2023,"month":10,"date":1,"utc":true},{"year":2023,"month":11,"date":1,"utc":true},{"year":2023,"month":12,"date":1,"utc":true},{"year":2024,"month":1,"date":1,"utc":true},{"year":2024,"month":2,"date":1,"utc":true},{"year":2024,"month":3,"date":1,"utc":true},{"year":2024,"month":4,"date":1,"utc":true},{"year":2024,"month":5,"date":1,"utc":true},{"year":2024,"month":6,"date":1,"utc":true},{"year":2024,"month":7,"date":1,"utc":true},{"year":2024,"month":8,"date":1,"utc":true}],
"labelExpr":"utcmonth(datum.value)==0 ? utcFormat(datum.value,'%Y') : utcFormat(datum.value,'%-m')",
"labelAlign":"left","labelOffset":2,"labelPadding":3,"labelBaseline":"top",
"labelFont":"DejaVu Sans Mono","labelFontSize":8,"labelColor":"#000",
"labelOverlap":false,"labelFlush":false,"labelBound":false,
"domainColor":"#d04040","tickColor":"#d04040","tickSize":4,
"grid":true,"gridColor":"#e4e4e4","gridWidth":1}}
},
"layer":[
{"data":{"name":"lines"},"transform":[{"filter":"datum.k=='dash'"}],
 "mark":{"type":"rule","stroke":"#7ccf7c","strokeWidth":1.5,"strokeDash":[9,6]},
 "encoding":{"x2":{"field":"d2"},"y":{"field":"p","type":"quantitative","scale":{"domain":[120.28,173.14],"nice":false,"zero":false},
 "axis":{"title":null,"orient":"right","values":[130,140,150,160,170],"format":".2f","labelFont":"DejaVu Sans Mono","labelFontSize":8,"labelColor":"#000","labelPadding":2,"tickSize":5,"tickColor":"#808080","domainColor":"#d04040","grid":true,"gridColor":"#e4e4e4"}}}},
{"data":{"name":"lines"},"transform":[{"filter":"datum.k=='solid'"}],
 "mark":{"type":"rule","stroke":"#3faa5c","strokeWidth":1.5},
 "encoding":{"x2":{"field":"d2"},"y":{"field":"p","type":"quantitative"}}},
{"data":{"name":"ohlc"},
 "mark":{"type":"rule","strokeWidth":1},
 "encoding":{"y":{"field":"l","type":"quantitative"},"y2":{"field":"h"},
 "color":{"condition":{"test":"datum.c>=datum.o","value":"#e89494"},"value":"#9090e4"}}},
{"data":{"name":"ohlc"},
 "mark":{"type":"bar","size":1.6},
 "encoding":{"y":{"field":"o","type":"quantitative"},"y2":{"field":"c"},
 "color":{"condition":{"test":"datum.c>=datum.o","value":"#e05050"},"value":"#1414e8"}}},
{"data":{"name":"ma"},
 "mark":{"type":"line","stroke":"#dd1a1a","strokeWidth":2,"interpolate":"monotone"},
 "encoding":{"y":{"field":"v","type":"quantitative"}}},
{"data":{"name":"annHi"},
 "mark":{"type":"text","align":"center","baseline":"bottom","dy":-15,"lineBreak":"\n","lineHeight":11,"font":"DejaVu Sans Mono","fontSize":8,"color":"#111"},
 "encoding":{"y":{"field":"p","type":"quantitative"},"text":{"field":"t"}}},
{"data":{"name":"annLo"},
 "mark":{"type":"text","align":"center","baseline":"top","dy":7,"lineBreak":"\n","lineHeight":11,"font":"DejaVu Sans Mono","fontSize":8,"color":"#111"},
 "encoding":{"y":{"field":"p","type":"quantitative"},"text":{"field":"t"}}},
{"data":{"values":[{"d":"2022-07-11","p":172.43,"t":"GTUSJY (米ドル/円 GTIS) - 日足 - ローソク足 (始, 高, 安, 終値)"}]},
 "mark":{"type":"text","align":"left","baseline":"middle","font":"Noto Sans CJK JP","fontSize":7.3,"color":"#c83030"},
 "encoding":{"y":{"field":"p","type":"quantitative"},"text":{"field":"t"}}},
{"data":{"values":[{"d":"2022-07-11","p":171.22,"t":"移動平均線(Close, 200, 0)"},{"d":"2023-01-11","p":172.43,"t":"2024/07/26"}]},
 "mark":{"type":"text","align":"left","baseline":"middle","font":"Noto Sans CJK JP","fontSize":7.3,"color":"#333"},
 "encoding":{"y":{"field":"p","type":"quantitative"},"text":{"field":"t"}}},
{"data":{"values":[{"d":"2023-02-13","p":172.43,"t":"L=153.77 -0.18 -0.12%"}]},
 "mark":{"type":"text","align":"left","baseline":"middle","font":"Noto Sans CJK JP","fontSize":7.3,"color":"#2a2aa0"},
 "encoding":{"y":{"field":"p","type":"quantitative"},"text":{"field":"t"}}},
{"data":{"values":[{"d":"2022-09-23","p":171.22,"t":"151.601"}]},
 "mark":{"type":"text","align":"left","baseline":"middle","font":"Noto Sans CJK JP","fontSize":7.3,"color":"#c83030"},
 "encoding":{"y":{"field":"p","type":"quantitative"},"text":{"field":"t"}}},
{"data":{"values":[{"d":"2022-08-13","p":168.08,"t":"ドル円(日足)"}]},
 "mark":{"type":"text","align":"left","baseline":"middle","font":"Noto Sans CJK JP","fontSize":13.5,"fontWeight":"bold","color":"#2040c0"},
 "encoding":{"y":{"field":"p","type":"quantitative"},"text":{"field":"t"}}},
{"data":{"values":[{"d":"2023-08-23","p":121.8,"t":"※チャート画像は、株式会社ミンカブ・ジ・インフォノイドの Win-Station(R)によるものです。当該画像の著作権は、同社に帰属します。"}]},
 "mark":{"type":"text","align":"left","baseline":"middle","font":"Noto Sans CJK JP","fontSize":6.5,"color":"#a8a028"},
 "encoding":{"y":{"field":"p","type":"quantitative"},"text":{"field":"t"}}},
{"data":{"values":[{"d":"2024-09-02","p":155.0,"t":"155.00"}]},
 "mark":{"type":"text","align":"right","baseline":"top","dy":3,"font":"DejaVu Sans Mono","fontSize":6,"color":"#6cc46c"},
 "encoding":{"y":{"field":"p","type":"quantitative"},"text":{"field":"t"}}},
{"data":{"values":[{"d":"2024-09-08","d2":"2024-10-02","p":153.1,"p2":154.45}]},
 "mark":{"type":"rect","color":"#0000ee"},
 "encoding":{"x2":{"field":"d2"},"y":{"field":"p","type":"quantitative"},"y2":{"field":"p2"}}},
{"data":{"values":[{"d":"2024-09-20","p":153.77,"t":"153.77"}]},
 "mark":{"type":"text","align":"center","baseline":"middle","font":"DejaVu Sans Mono","fontSize":8,"color":"#ffffff"},
 "encoding":{"y":{"field":"p","type":"quantitative"},"text":{"field":"t"}}}
]
}
